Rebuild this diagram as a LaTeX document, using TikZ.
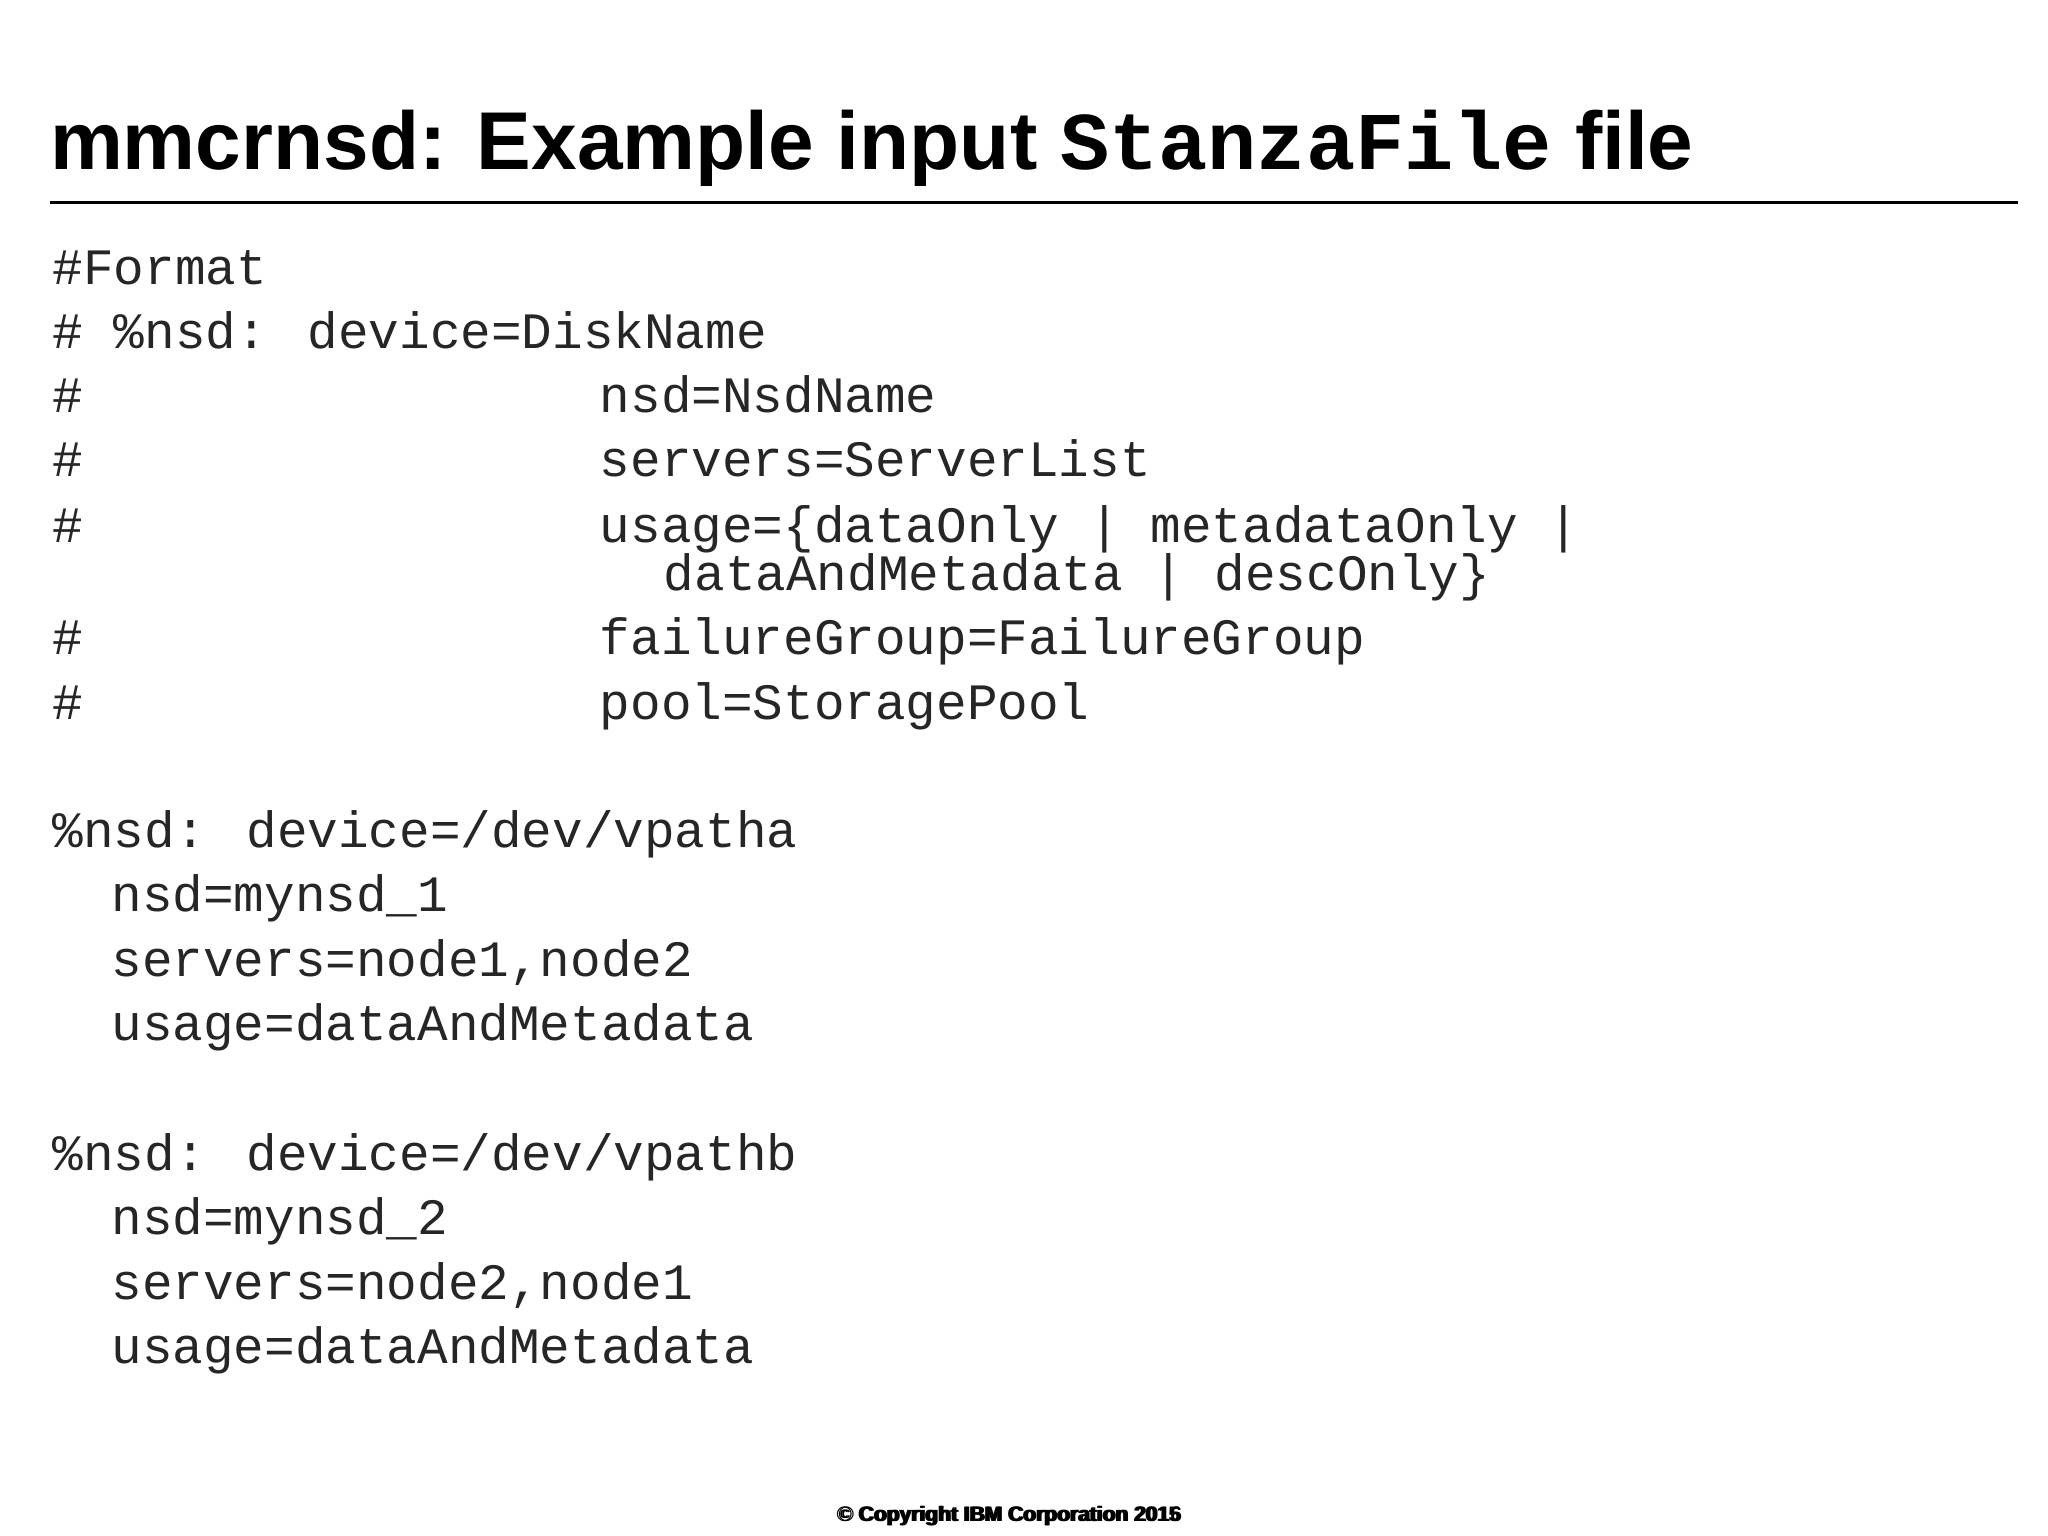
\documentclass[tikz,border=0pt]{standalone}
\usepackage{fontspec}
\setmainfont{Liberation Sans}
\newfontfamily\cmono{Liberation Mono}
\begin{document}
\begin{tikzpicture}[x=0.653pt,y=-0.653pt,
  code/.style={anchor=base west,inner sep=0pt,font=\cmono\fontsize{25.5}{30}\selectfont,text=black!85},
  ttl/.style={anchor=base west,inner sep=0pt,font=\bfseries\fontsize{41}{48}\selectfont},
  foot/.style={anchor=base,inner sep=0pt,font=\bfseries\fontsize{10.5}{12}\selectfont}]
\useasboundingbox (0,0) rectangle (1568,1176);
\node[ttl] (title) at (38,130) {mmcrnsd: Example input {\cmono StanzaFile} file};
\draw[line width=1.3pt] (38,155) coordinate (r1) -- (1545,155) coordinate (r2);
\def\cw{23.3}
\node[code] (l1) at (40,218) {\#Format};
\node[code] (l2) at (40,267) {\# \%nsd: device=DiskName};
\node[code] (l3a) at (40,316) {\#};
\node[code] (l3) at (459,316) {nsd=NsdName};
\node[code] (l4a) at (40,365) {\#};
\node[code] (l4) at (459,365) {servers=ServerList};
\node[code] (l5a) at (40,415) {\#};
\node[code] (l5) at (459,415) {usage=\{dataOnly | metadataOnly |};
\node[code] (l5b) at (508,452) {dataAndMetadata | descOnly\}};
\node[code] (l6a) at (40,501) {\#};
\node[code] (l6) at (459,501) {failureGroup=FailureGroup};
\node[code] (l7a) at (40,551) {\#};
\node[code] (l7) at (459,551) {pool=StoragePool};
\node[code] (a1) at (40,649) {\%nsd: device=/dev/vpatha};
\node[code] (a2) at (85,698) {nsd=mynsd\_1};
\node[code] (a3) at (85,748) {servers=node1,node2};
\node[code] (a4) at (85,797) {usage=dataAndMetadata};
\node[code] (b1) at (40,896) {\%nsd: device=/dev/vpathb};
\node[code] (b2) at (85,945) {nsd=mynsd\_2};
\node[code] (b3) at (85,995) {servers=node2,node1};
\node[code] (b4) at (85,1044) {usage=dataAndMetadata};
\node[foot] (f1) at (772,1165) {© Copyright IBM Corporation 2015};
\node[foot] (f2) at (773.5,1165) {© Copyright IBM Corporation 2016};
\end{tikzpicture}
\end{document}
